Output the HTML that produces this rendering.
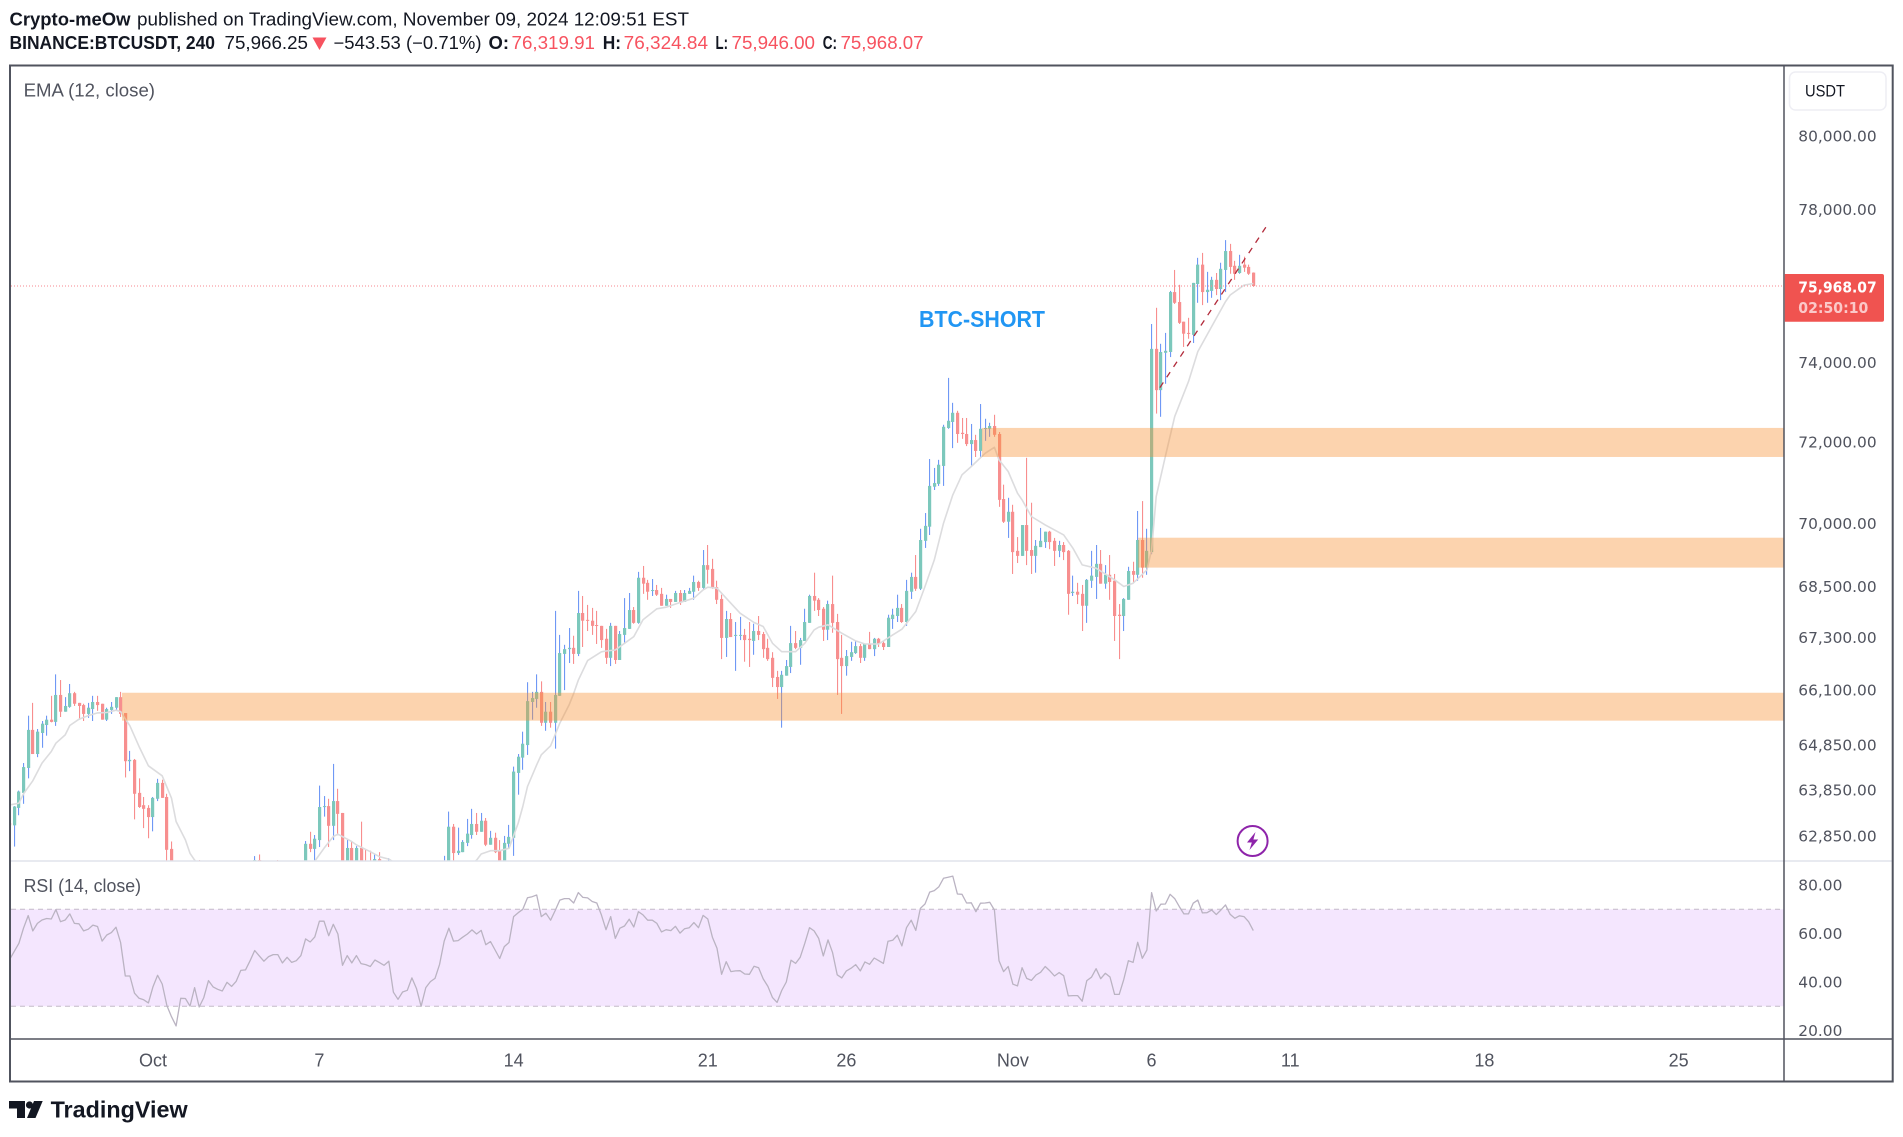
<!DOCTYPE html>
<html lang="en">
<head>
<meta charset="utf-8">
<title>BTCUSDT 240 chart</title>
<style>
html,body{margin:0;padding:0;background:#fff;width:1903px;height:1137px;overflow:hidden}
svg{display:block}
text{font-family:"Liberation Sans",sans-serif}
.ax{font-family:"DejaVu Sans",sans-serif;font-size:15.4px;fill:#50535e}
</style>
</head>
<body>
<svg id="chart" xmlns="http://www.w3.org/2000/svg" width="1903" height="1137" viewBox="0 0 1903 1137">
<defs>
<clipPath id="mainClip"><rect x="11" y="66.5" width="1773" height="794.5"/></clipPath>
<clipPath id="rsiClip"><rect x="11" y="862" width="1773" height="177"/></clipPath>
</defs>
<rect x="0" y="0" width="1903" height="1137" fill="#fff"/>

<g font-size="18" fill="#131722">
<text x="9.5" y="25.5" font-weight="bold" textLength="121" lengthAdjust="spacingAndGlyphs">Crypto-meOw</text>
<text x="137" y="25.5" textLength="552" lengthAdjust="spacingAndGlyphs">published on TradingView.com, November 09, 2024 12:09:51 EST</text>
</g>
<g font-size="18" fill="#131722">
<text x="9.5" y="49" font-weight="bold" textLength="205.5" lengthAdjust="spacingAndGlyphs">BINANCE:BTCUSDT, 240</text>
<text x="224.5" y="49" textLength="83.5" lengthAdjust="spacingAndGlyphs">75,966.25</text>
<polygon points="312.5,37.5 326.5,37.5 319.5,50" fill="#f7525f"/>
<text x="333.5" y="49" textLength="148" lengthAdjust="spacingAndGlyphs">−543.53 (−0.71%)</text>
<text x="488.5" y="49" font-weight="bold" textLength="20.5" lengthAdjust="spacingAndGlyphs">O:</text>
<text x="511.5" y="49" fill="#f7525f" textLength="83.5" lengthAdjust="spacingAndGlyphs">76,319.91</text>
<text x="602.7" y="49" font-weight="bold" textLength="18.3" lengthAdjust="spacingAndGlyphs">H:</text>
<text x="623.7" y="49" fill="#f7525f" textLength="84.3" lengthAdjust="spacingAndGlyphs">76,324.84</text>
<text x="715.5" y="49" font-weight="bold" textLength="12.5" lengthAdjust="spacingAndGlyphs">L:</text>
<text x="731.5" y="49" fill="#f7525f" textLength="83.5" lengthAdjust="spacingAndGlyphs">75,946.00</text>
<text x="822.7" y="49" font-weight="bold" textLength="14.3" lengthAdjust="spacingAndGlyphs">C:</text>
<text x="840.5" y="49" fill="#f7525f" textLength="83" lengthAdjust="spacingAndGlyphs">75,968.07</text>
</g>

<g id="mainPane" clip-path="url(#mainClip)"></g>
<g id="rsiPane" clip-path="url(#rsiClip)"></g>
<g id="axes"></g>

<text x="23.6" y="96.5" font-size="18" fill="#50535e" textLength="131.4" lengthAdjust="spacingAndGlyphs">EMA (12, close)</text>
<text x="23.6" y="892" font-size="18" fill="#50535e" textLength="117.4" lengthAdjust="spacingAndGlyphs">RSI (14, close)</text>
<text x="919" y="327" font-size="23" font-weight="bold" fill="#2196f3" textLength="126" lengthAdjust="spacingAndGlyphs">BTC-SHORT</text>

<g>
<circle cx="1252.6" cy="841" r="15" fill="#fff" stroke="#8e24aa" stroke-width="2"/>
<polygon points="1255.5,832 1247,842.5 1251.8,842.5 1249.5,850 1258.2,839.5 1253.4,839.5" fill="#8e24aa"/>
</g>

<line x1="11" y1="861" x2="1892" y2="861" stroke="#e0e3eb" stroke-width="1.5"/>
<line x1="10" y1="1039" x2="1892" y2="1039" stroke="#50535e" stroke-width="1.5"/>
<line x1="1784" y1="65" x2="1784" y2="1082" stroke="#50535e" stroke-width="1.5"/>
<rect x="10" y="65.5" width="1882.7" height="1016" fill="none" stroke="#50535e" stroke-width="2"/>

<rect x="1789.5" y="72" width="96.5" height="38" rx="6" fill="#fff" stroke="#eeeef4" stroke-width="1.5"/>
<text x="1805" y="96.5" font-size="16.5" fill="#131722" textLength="40" lengthAdjust="spacingAndGlyphs">USDT</text>

<path d="M1784.8 274H1882a2 2 0 0 1 2 2V319.7a2 2 0 0 1 -2 2H1784.8z" fill="#f05350"/>
<text x="1798.3" y="292.5" style="font-family:'DejaVu Sans',sans-serif" font-size="15" font-weight="bold" fill="#fff" textLength="78.4" lengthAdjust="spacingAndGlyphs">75,968.07</text>
<text x="1798.3" y="313" style="font-family:'DejaVu Sans',sans-serif" font-size="15" font-weight="bold" fill="#fbc8c8" textLength="70" lengthAdjust="spacingAndGlyphs">02:50:10</text>

<g>
<path d="M9 1101h16v17h-8v-9.5h-8z" fill="#131722"/>
<circle cx="29.5" cy="1105" r="3.6" fill="#131722"/>
<polygon points="42.7,1101 34,1101 27,1118 35.5,1118" fill="#131722"/>
<text x="50.6" y="1117.5" font-size="23" font-weight="bold" fill="#131722" textLength="137" lengthAdjust="spacingAndGlyphs">TradingView</text>
</g>
</svg>
<script>
const opens=[
63130,63080,63460,63790,64340,65190,64650,65120,65300,65420,
65370,65980,65600,65710,66020,65800,65750,65550,65660,65820,
65780,65420,65640,65690,65930,65570,64490,64520,63790,63520,
63460,63260,63660,64010,63700,62570,61900,61400,61800,61350,
60950,61750,61100,61500,61950,61600,61350,61150,61600,61300,
61650,61950,62050,62100,62330,62050,61800,62000,62100,61900,
61600,61900,61550,61750,62000,62680,62570,62760,63480,63500,
63070,63610,63350,61950,62590,62100,62590,62000,61900,62050,
62350,62000,62100,62200,61300,61050,61350,61450,61900,61400,
60500,61250,61500,61700,62000,62200,63050,62480,62500,62700,
62870,63110,62940,63180,62660,62810,62530,62100,62680,62810,
64230,64570,64850,65820,65890,66050,65350,65600,65350,65960,
66920,67030,67060,66920,67870,67710,67690,67590,67570,67270,
66830,67570,66780,67360,67500,67940,67640,68700,68580,68390,
68410,68320,68040,68200,68130,68340,68130,68320,68370,68600,
68460,69000,68910,68480,68200,67290,67730,67340,67340,67360,
67270,67220,67450,67380,67060,66830,66390,66160,66420,66620,
67170,67060,67220,67640,68270,68180,67970,67480,68080,67660,
66830,66640,66850,66940,67100,66830,67150,67030,67270,67170,
67080,67730,67800,67990,67660,68370,68720,68440,69580,69920,
70890,70960,71400,72340,72490,72720,72220,72190,71940,72040,
71770,72320,72320,72390,72190,70590,70040,70280,69340,69220,
69960,69360,69220,69430,69550,69800,69580,69340,69480,69340,
68340,68370,68320,68040,68630,68720,69030,68560,68770,68630,
67830,67800,68180,68860,68770,69600,68940,69310,74340,73290,
74240,74260,75810,75550,75040,74750,74700,76020,76530,75810,
75840,76130,75890,76390,76890,76500,76310,76530,76470,76319.91];
const highs=[
63140,63500,63840,64450,65510,65800,65210,65390,65510,65960,
66450,66320,65930,66230,66050,65800,65780,65800,65960,65960,
65780,65690,65820,65930,66050,65570,64720,64540,64110,63700,
63520,63700,64100,64080,63770,62730,62050,61950,61950,61700,
61900,62330,61700,62100,62100,61850,61600,61750,61750,61800,
62100,62150,62250,62415,62450,62200,62150,62200,62330,62100,
62000,62050,61900,62200,62740,62940,62870,63950,63720,63660,
64430,63880,63350,62790,62740,62630,63160,62550,62530,62460,
62500,62250,62370,62270,61600,61500,61700,62050,62000,61650,
61400,61700,61900,62200,62420,63380,63110,63030,62760,63220,
63440,63350,63350,63240,62960,62920,62760,62850,63090,64370,
64650,65150,66270,66050,66450,66290,65820,65820,67920,67360,
67130,67520,67340,68390,68270,68060,67990,67920,67570,67500,
67640,67570,67450,68220,68340,68010,68840,68980,68650,68670,
68530,68460,68300,68200,68390,68410,68410,68460,68750,68630,
69360,69480,69150,68630,68300,67920,67870,67660,67780,67500,
67660,67620,67800,67430,67270,66960,66530,66530,66780,67570,
67450,67290,67970,68300,68820,68220,68010,68160,68750,67850,
67360,67010,67200,67220,67150,67150,67430,67290,67290,67220,
67830,67970,68300,68080,68650,68820,69240,69870,70250,71570,
71350,71550,72420,73600,72970,72770,72590,72590,72440,72170,
72940,72570,72470,72670,72240,70940,70620,70450,69670,69960,
71600,70500,69600,69890,69800,69820,69650,69580,69550,69360,
68750,68580,68530,68670,69340,69480,69360,69000,69240,68790,
68080,68220,68960,69080,70300,70540,69870,74980,75400,74470,
74750,75840,76390,76000,75040,75140,76050,76710,76840,76340,
76210,76310,76580,77180,77080,76630,76790,76740,76530,76324.84];
const lows=[
63070,62620,63300,63550,64110,64650,64580,64790,65060,65360,
65280,65480,65600,65690,65730,65420,65390,65460,65390,65620,
65420,65390,65550,65620,65480,64130,64270,63210,63460,63020,
62800,62950,63610,63680,62000,61500,61150,61100,61200,60700,
60750,60950,60800,61300,61300,61150,61000,61000,61100,61200,
61500,61700,61800,61900,61900,61700,61650,61800,61750,61500,
61450,61400,61400,61600,61900,62500,62100,62610,63270,62610,
62760,62900,61700,61800,61800,61900,61850,61700,61800,61900,
61900,61800,61900,61100,60900,60800,61100,61300,61200,60300,
60300,61000,61300,61500,61800,61900,62000,62440,62500,62630,
62790,62870,62940,62630,62660,62480,62000,62000,62570,62420,
63750,64300,64630,65420,65690,65280,65170,65240,64770,65960,
66090,66710,66690,66870,67080,67450,67360,67150,67060,66690,
66640,66690,66780,67150,67500,67620,67620,68320,68180,68270,
68270,68040,68040,67990,68130,68060,68130,68320,68180,68390,
68440,68560,68440,68080,66800,66850,67310,66530,67240,66740,
66620,66900,67240,66830,66760,66160,65890,65240,66420,66480,
67030,66670,67220,67640,67920,67800,67220,67240,67410,65980,
65550,66420,66760,66920,66710,66760,67030,66870,67080,67010,
67080,67500,67660,67640,67570,68200,68390,68410,69410,69720,
70810,70910,70910,72320,71840,71970,72070,71890,71400,71620,
71620,72020,72120,72120,70400,70010,69650,68790,69050,69220,
69000,68790,68820,69430,69410,69380,68980,69190,69120,67830,
68270,68080,67450,67640,68460,68200,68560,68440,68180,67220,
66800,67450,68180,68580,68630,68700,68770,69260,72700,72620,
73450,74130,75500,74980,74390,74600,74490,75530,75470,75530,
75660,75730,75600,75810,76290,76130,76290,76340,76260,75946];
const closes=[
63080,63490,63820,64360,65190,64650,65150,65330,65420,65370,
65980,65600,65730,66020,65780,65730,65550,65690,65820,65750,
65420,65660,65710,65930,65550,64490,64520,63770,63480,63440,
63260,63680,64010,63680,62550,61900,61400,61800,61350,60950,
61750,61100,61500,61950,61600,61350,61150,61600,61300,61650,
61950,62050,62150,62330,62050,61800,62000,62100,61900,61600,
61900,61550,61750,62000,62680,62570,62790,63480,63500,63070,
63610,63330,61950,62590,62100,62590,62000,61900,61850,62350,
62000,62150,62250,61300,61050,61350,61450,61900,61400,60500,
61250,61500,61700,62000,62200,63050,62480,62530,62720,62900,
63110,62940,63180,62660,62810,62500,62100,62700,62830,64260,
64590,64880,65840,65910,66050,65350,65600,65350,65980,66940,
67030,67060,66920,67870,67690,67690,67570,67570,67240,66830,
67570,66780,67380,67520,67940,67640,68700,68560,68370,68410,
68300,68040,68200,68130,68340,68130,68340,68390,68600,68460,
69000,68890,68460,68180,67290,67730,67310,67360,67360,67240,
67240,67450,67360,67030,66800,66370,66160,66440,66640,67170,
67060,67240,67660,68270,68160,67940,67480,68080,67640,66800,
66640,66870,66960,67100,66830,67150,67030,67270,67150,67080,
67760,67830,67990,67660,68390,68720,68440,69600,69940,70910,
70980,71430,72370,72520,72720,72190,72190,71940,72040,71770,
72320,72340,72390,72170,70570,70040,70280,69310,69220,69960,
69340,69220,69460,69580,69800,69550,69340,69480,69310,68320,
68370,68300,68040,68650,68750,69030,68560,68770,68600,67800,
67800,68200,68860,68770,69600,68940,69340,74340,73290,74260,
74290,75810,75530,75010,74730,74730,76050,76530,75810,75870,
76130,75890,76420,76890,76470,76290,76500,76450,76290,75968.07];
const emaBars=[0,2,3,5,7,9,10,12,13,15,17,19,21,23,24,26,28,30,33,35,36,38,39,40,46,54,60,64,66,68,70,71,74,75,78,80,82,86,92,97,100,101,102,104,106,108,110,111,112,114,115,117,119,121,122,123,125,128,129,131,133,135,137,140,142,145,148,150,151,153,155,158,161,163,165,167,170,172,174,175,177,180,183,185,188,191,193,196,198,200,202,204,206,208,211,213,214,216,218,219,221,224,228,230,232,235,239,241,243,246,247,248,250,252,255,257,260,263,264,267,269];
const emaValues=[63527,63563,63769,64057,64448,64706,64891,65078,65288,65431,65513,65573,65581,65633,65603,65281,64816,64389,64167,63673,63164,62765,62474,62329,61700,61400,61800,62100,62307,62583,62837,62888,62728,62656,62510,62401,62351,62100,61800,62050,62250,62329,62460,62532,62532,62583,63128,63491,63931,64411,64632,64833,65341,65753,66016,66316,66766,66968,66987,67010,67166,67321,67711,67968,68007,68116,68217,68414,68477,68453,68217,67866,67648,67555,67166,66972,66972,67166,67477,67540,67594,67399,67220,67150,67150,67360,67492,67905,68493,69124,70005,70691,71181,71385,71712,71861,71549,71263,70731,70568,70165,69964,69722,69400,69005,68927,68651,68493,68572,68887,69360,70650,71640,72625,73506,74270,74915,75560,75732,75990,76033];
const rsiValues=[
49.4,52.7,56,62.2,67.4,61.1,64.2,65.6,66.2,66,
69.9,64.9,65.6,68.1,64.2,64,61.1,61.8,63.5,62.9,
56.9,59.4,60.4,62.6,56.3,42.5,42.5,35.4,33.3,32.7,
31.4,38.1,42.8,39.2,30.3,25.7,21.9,33.3,33.2,30.1,
37.7,29.7,33.6,40.6,38,37,36.3,39.9,38.2,40.3,
44.8,45,48.8,53,50.8,48.6,50.5,51.3,51.3,47.9,
50.2,48.1,48.8,50.9,57.8,56.5,58.6,65.1,65.1,59.1,
63.8,59.8,46.9,50.9,47.9,50.9,47.6,47.2,46.4,49.1,
48,46.9,48.6,35.8,32.9,35.9,36.6,41.7,37.3,30,
37.7,40.2,41.5,47.3,56.9,62.2,56.9,57.1,58.5,59.8,
61.5,59.8,61.3,55.4,56.7,53.2,49.7,54.6,56.3,67,
68.6,70,74.8,75.2,75.9,67,68.4,65.5,69.5,73.8,
74.4,74.4,72.6,76.9,74.9,74.7,73.2,72.6,67.7,61.6,
67,58,62.2,63.1,65.9,62.7,69,67.7,65.5,65.5,
64.2,60.7,61.6,61.2,63,60.2,62,62.4,64.5,62.4,
67.5,66,58.5,53.9,43.2,48.4,44.3,44.6,44.7,43.3,
43.2,46.5,45.9,41.3,38.2,33.6,31.6,36.5,40,49,
47.7,50.2,56,62.4,61.1,58,50.8,57.4,52.1,43,
41.7,44.6,45.7,47.2,44.6,48.3,47.3,49.9,48.8,47.7,
56.8,57.2,59.3,54.9,62.4,65.5,61.3,70.4,72.2,77.1,
77.7,79.3,82.8,83.2,83.7,76.3,76.2,72.6,72.7,69,
72.5,72.6,72.9,69.7,48.8,44.3,46.4,39.1,38.4,45.9,
41.5,40.7,42.9,44,46.4,44.6,42.5,43.9,42.6,34.3,
34.4,34.4,32.1,40.6,42,45.5,41.4,43.6,42.1,34.9,
34.9,41.1,48.8,48.1,56.4,49.8,53.2,76.9,69.3,72.1,
72.2,76.2,74.4,71.1,68.1,68.1,72.5,73.8,68.5,68.6,
69.7,67.8,69.7,71.8,67.9,66.3,67.3,67,64.9,61.2];
const priceTicks=[80000,78000,74000,72000,70000,68500,67300,66100,64850,63850,62850];
const priceTickLabels=["80,000.00","78,000.00","74,000.00","72,000.00","70,000.00","68,500.00","67,300.00","66,100.00","64,850.00","63,850.00","62,850.00"];
const rsiTicks=[80,60,40,20];
const rsiTickLabels=["80.00","60.00","40.00","20.00"];
const timeTickBars=[31,67,109,151,181,217,247,277,319,361];
const timeTickLabels=["Oct","7","14","21","26","Nov","6","11","18","25"];
const zoneStartBars=[24.3,210.3,244.1];
const zoneTopPrices=[66030,72342,69655];
const zoneBottomPrices=[65398,71621,68941];
const trendBars=[248.8,271.8];
const trendPrices=[73354,77539];
const lastClose=75968.07;
const rsiUpper=70;
const rsiLower=30;

const NS='http://www.w3.org/2000/svg';
function mk(parent,tag,attrs){
  const e=document.createElementNS(NS,tag);
  for(const k in attrs){e.setAttribute(k,attrs[k]);}
  parent.appendChild(e);
  return e;
}
function xBar(i){return 9.68+4.623*i;}
function yPrice(p){return 136+2901*Math.log(80000/p);}
function yRsi(v){return 909.3+(70-v)*2.425;}

const main=document.getElementById('mainPane');
const rsiPane=document.getElementById('rsiPane');
const axes=document.getElementById('axes');

opens.forEach(function(o,i){
  const c=closes[i],h=highs[i],l=lows[i];
  const up=c>=o;
  const cx=xBar(i);
  const wick=mk(main,'rect',{x:Math.round(cx-0.5),y:yPrice(h),width:1.1,height:Math.max(1,yPrice(l)-yPrice(h)),fill:up?'#6f98f5':'#f88e8e'});
  
  
  const top=yPrice(Math.max(o,c)),bot=yPrice(Math.min(o,c));
  const body=mk(main,'rect',{x:Math.round(cx-1.5),y:top,width:3.2,height:Math.max(1,bot-top),fill:up?'#7cc8bc':'#f78f8f'});
  
  
});

const emaLine=mk(main,'polyline',{points:emaBars.map(function(b,k){return xBar(b).toFixed(1)+','+yPrice(emaValues[k]).toFixed(1);}).join(' '),fill:'none',stroke:'#dcdcde','stroke-width':1.6,'stroke-linejoin':'round'});



const priceLine=mk(main,'line',{x1:11,x2:1784,y1:yPrice(lastClose),y2:yPrice(lastClose),stroke:'#f7878f','stroke-width':1,'stroke-dasharray':'1 2'});



zoneStartBars.forEach(function(b,k){
  const t=yPrice(zoneTopPrices[k]),bt=yPrice(zoneBottomPrices[k]);
  const x0=xBar(b);
  const z=mk(main,'rect',{x:x0,y:t,width:1784-x0,height:bt-t,fill:'rgba(247,145,52,0.4)'});
  
  
});

const trend=mk(main,'line',{x1:xBar(trendBars[0]),y1:yPrice(trendPrices[0]),x2:xBar(trendBars[1]),y2:yPrice(trendPrices[1]),stroke:'#b22a3a','stroke-width':1.3,'stroke-dasharray':'6.2 6.2'});



const band=mk(rsiPane,'rect',{x:11,y:yRsi(rsiUpper),width:1773,height:yRsi(rsiLower)-yRsi(rsiUpper),fill:'#f4e6fe'});


[rsiUpper,rsiLower].forEach(function(v){
  const d=mk(rsiPane,'line',{x1:11,x2:1784,y1:yRsi(v),y2:yRsi(v),stroke:'#c3bac8','stroke-width':1,'stroke-dasharray':'5 4'});
  
  
});
const rsiLine=mk(rsiPane,'polyline',{points:rsiValues.map(function(v,i){return xBar(i).toFixed(1)+','+yRsi(v).toFixed(1);}).join(' '),fill:'none',stroke:'#bab3c2','stroke-width':1.3,'stroke-linejoin':'round'});



priceTicks.forEach(function(p,k){
  const t=mk(axes,'text',{x:1798.3,y:yPrice(p)+5.6,'class':'ax'});
  t.textContent=priceTickLabels[k];
  
  
});
rsiTicks.forEach(function(v,k){
  const t=mk(axes,'text',{x:1798.3,y:yRsi(v)+5.6,'class':'ax'});
  t.textContent=rsiTickLabels[k];
  
  
});
timeTickBars.forEach(function(b,k){
  const t=mk(axes,'text',{x:xBar(b),y:1066.5,'text-anchor':'middle','font-size':18,fill:'#50535e'});
  t.textContent=timeTickLabels[k];
  
  
});
</script>
</body>
</html>
